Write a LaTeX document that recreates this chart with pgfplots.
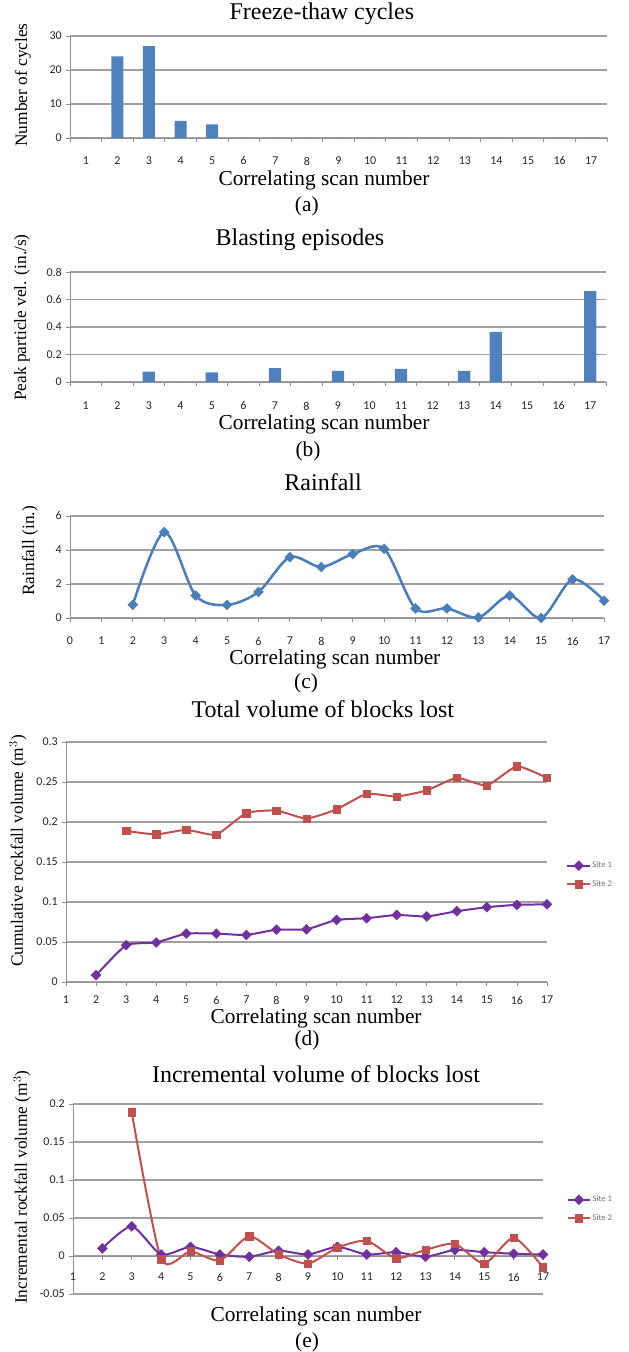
\documentclass[border=0pt]{standalone}
\usepackage{fontspec}
\setmainfont{Liberation Serif}
\newfontfamily\tickfont{Carlito}
\usepackage{pgfplots}
\pgfplotsset{compat=1.18}
\definecolor{barblue}{HTML}{4F81BD}
\definecolor{rainblue}{HTML}{4A7EBB}
\definecolor{sitepurple}{HTML}{7030A0}
\definecolor{sitered}{HTML}{C0504D}
\definecolor{gridgray}{HTML}{A0A0A0}
\definecolor{axisgray}{HTML}{909090}

\pgfplotsset{
  xlsbase/.style={
    scale only axis,
    anchor=south west,
    axis x line*=bottom, axis y line*=left,
    axis line style={draw=axisgray, line width=0.7pt, -},
    ymajorgrids, grid style={draw=gridgray, line width=0.8pt},
    tick align=outside,
    major tick length=3pt, minor tick length=3pt,
    tick style={draw=axisgray, line width=0.6pt},
    tick label style={font=\tickfont\fontsize{9}{9}\selectfont, text=black!85, inner sep=1pt},
    yticklabel style={anchor=east, xshift=-2pt},
    title style={anchor=center, font=\fontsize{18}{18}\selectfont, inner sep=1pt},
    xlabel style={anchor=center, font=\fontsize{16}{16}\selectfont, inner sep=1pt},
    ylabel style={anchor=center, font=\fontsize{13}{13}\selectfont, inner sep=1pt},
    clip=false,
  },
  barcats/.style={
    xmin=0.5, xmax=17.5,
    xtick={1,2,3,4,5,6,7,8,9,10,11,12,13,14,15,16,17},
    xticklabels={1,2,3,4,5,6,7,8,9,10,11,12,13,14,15,16,17},
    major x tick style={draw=none},
    minor xtick={0.5,1.5,2.5,3.5,4.5,5.5,6.5,7.5,8.5,9.5,10.5,11.5,12.5,13.5,14.5,15.5,16.5,17.5},
  },
  sitelegend/.style={
    legend style={draw=none, fill=none, anchor=center,
      font=\tickfont\fontsize{6.5}{6.5}\selectfont, text=black!55,
      row sep=6pt, inner sep=0pt, nodes={inner sep=1pt}},
    legend cell align=left,
  },
}

\pgfplotstableread{
x y
1 0
2 24
3 27
4 5
5 4
6 0
7 0
8 0
9 0
10 0
11 0
12 0
13 0
14 0
15 0
16 0
17 0
}\freezethaw

\pgfplotstableread{
x y
1 0
2 0
3 0.075
4 0
5 0.07
6 0
7 0.1
8 0
9 0.08
10 0
11 0.095
12 0
13 0.08
14 0.365
15 0
16 0
17 0.66
}\blasting

\pgfplotstableread{
x y
2 0.78
3 5.05
4 1.32
5 0.77
6 1.53
7 3.58
8 3.0
9 3.76
10 4.07
11 0.56
12 0.56
13 0.03
14 1.32
15 0.0
16 2.27
17 1.02
}\rainfall

\pgfplotstableread{
x y
2 0.0085
3 0.046
4 0.0494
5 0.0605
6 0.0605
7 0.0588
8 0.0654
9 0.0658
10 0.0776
11 0.0797
12 0.0838
13 0.0819
14 0.0885
15 0.0935
16 0.0965
17 0.097
}\cumsiteA

\pgfplotstableread{
x y
3 0.1888
4 0.1845
5 0.1902
6 0.1842
7 0.2112
8 0.2143
9 0.2043
10 0.2158
11 0.2352
12 0.2318
13 0.2395
14 0.2552
15 0.2456
16 0.2697
17 0.2550
}\cumsiteB

\pgfplotstableread{
x y
2 0.010
3 0.039
4 0.002
5 0.012
6 0.002
7 -0.001
8 0.007
9 0.002
10 0.012
11 0.002
12 0.005
13 -0.001
14 0.008
15 0.005
16 0.003
17 0.002
}\incsiteA

\pgfplotstableread{
x y
3 0.189
4 -0.004
5 0.006
6 -0.006
7 0.026
8 0.002
9 -0.010
10 0.011
11 0.020
12 -0.003
13 0.008
14 0.016
15 -0.010
16 0.024
17 -0.015
}\incsiteB

\begin{document}
\begin{tikzpicture}
\path[use as bounding box] (0pt,0pt) rectangle (471pt,1014pt);

% (a) Freeze-thaw cycles
\begin{axis}[xlsbase, barcats,
  at={(52.5pt,910.5pt)}, width=402.75pt, height=76.5pt,
  ymin=0, ymax=30,
  ytick={0,10,20,30}, yticklabels={0,10,20,30},
  xticklabel style={anchor=center, yshift=-14.25pt},
  title={Freeze-thaw cycles},
  title style={at={(axis description cs:0.469,1.137)}},
  xlabel={Correlating scan number},
  xlabel style={at={(axis description cs:0.473,-0.412)}},
  ylabel={Number of cycles},
  ylabel style={at={(axis description cs:-0.0875,0.52)}},
]
\addplot[ybar, fill=barblue, draw=none, bar width=0.38] table[x=x,y=y] {\freezethaw};
\node[font=\fontsize{16}{16}\selectfont] at (axis description cs:0.441,-0.667) {(a)};
\end{axis}

% (b) Blasting episodes
\begin{axis}[xlsbase, barcats,
  at={(52.5pt,727.5pt)}, width=402pt, height=82.5pt,
  ymin=0, ymax=0.8,
  ytick={0,0.2,0.4,0.6,0.8}, yticklabels={0,0.2,0.4,0.6,0.8},
  xticklabel style={anchor=center, yshift=-15pt},
  title={Blasting episodes},
  title style={at={(axis description cs:0.429,1.218)}},
  xlabel={Correlating scan number},
  xlabel style={at={(axis description cs:0.474,-0.382)}},
  ylabel={Peak particle vel. (in./s)},
  ylabel style={at={(axis description cs:-0.0896,0.586)}},
]
\addplot[ybar, fill=barblue, draw=none, bar width=0.39] table[x=x,y=y] {\blasting};
\node[font=\fontsize{16}{16}\selectfont] at (axis description cs:0.444,-0.627) {(b)};
\end{axis}

% (c) Rainfall
\begin{axis}[xlsbase,
  at={(52.5pt,550.5pt)}, width=400.5pt, height=76.5pt,
  xmin=0, xmax=17, ymin=0, ymax=6,
  xtick={0,1,2,3,4,5,6,7,8,9,10,11,12,13,14,15,16,17},
  xticklabels={0,1,2,3,4,5,6,7,8,9,10,11,12,13,14,15,16,17},
  ytick={0,2,4,6}, yticklabels={0,2,4,6},
  xticklabel style={anchor=center, yshift=-14.25pt},
  title={Rainfall},
  title style={at={(axis description cs:0.474,1.255)}},
  xlabel={Correlating scan number},
  xlabel style={at={(axis description cs:0.496,-0.402)}},
  ylabel={Rainfall (in.)},
  ylabel style={at={(axis description cs:-0.075,0.657)}},
]
\addplot[color=rainblue, line width=1.9pt, smooth, tension=0.5,
  mark=square*, mark size=2.6pt, mark options={rotate=45, solid, fill=rainblue, line width=0.4pt}]
  table[x=x,y=y] {\rainfall};
\node[font=\fontsize{16}{16}\selectfont] at (axis description cs:0.442,-0.637) {(c)};
\end{axis}

% (d) Total volume of blocks lost
\begin{axis}[xlsbase, sitelegend,
  at={(49.5pt,277.5pt)}, width=360.75pt, height=180pt,
  xmin=1, xmax=17, ymin=0, ymax=0.3,
  xtick={1,2,3,4,5,6,7,8,9,10,11,12,13,14,15,16,17},
  xticklabels={1,2,3,4,5,6,7,8,9,10,11,12,13,14,15,16,17},
  ytick={0,0.05,0.1,0.15,0.2,0.25,0.3},
  yticklabels={0,0.05,0.1,0.15,0.2,0.25,0.3},
  xticklabel style={anchor=center, yshift=-10.5pt},
  title={Total volume of blocks lost},
  title style={at={(axis description cs:0.534,1.104)}},
  xlabel={Correlating scan number},
  xlabel style={at={(axis description cs:0.52,-0.152)}},
  ylabel={Cumulative rockfall volume (m$^{3}$)},
  ylabel style={at={(axis description cs:-0.0998,0.546)}},
  legend style={at={(axis description cs:1.089,0.446)}},
]
\addplot[color=sitepurple, line width=1.5pt, smooth, tension=0.3,
  mark=square*, mark size=2.6pt, mark options={rotate=45, solid, fill=sitepurple, line width=0.4pt}]
  table[x=x,y=y] {\cumsiteA};
\addlegendentry{Site 1}
\addplot[color=sitered, line width=1.5pt, smooth, tension=0.3,
  mark=square*, mark size=2.8pt, mark options={solid, fill=sitered, line width=0.4pt}]
  table[x=x,y=y] {\cumsiteB};
\addlegendentry{Site 2}
\node[font=\fontsize{16}{16}\selectfont] at (axis description cs:0.501,-0.2425) {(d)};
\end{axis}

% (e) Incremental volume of blocks lost
\begin{axis}[xlsbase, sitelegend,
  at={(54.75pt,43.5pt)}, width=352.5pt, height=142.5pt,
  axis x line*=middle, hide obscured x ticks=false,
  xmin=1, xmax=17, ymin=-0.05, ymax=0.2,
  xtick={1,2,3,4,5,6,7,8,9,10,11,12,13,14,15,16,17},
  xticklabels={1,2,3,4,5,6,7,8,9,10,11,12,13,14,15,16,17},
  ytick={-0.05,0,0.05,0.1,0.15,0.2},
  yticklabels={-0.05,0,0.05,0.1,0.15,0.2},
  xticklabel style={anchor=center, yshift=-12.75pt},
  title={Incremental volume of blocks lost},
  title style={at={(axis description cs:0.517,1.116)}},
  xlabel={Correlating scan number},
  xlabel style={at={(axis description cs:0.517,-0.116)}},
  ylabel={Incremental rockfall volume (m$^{3}$)},
  ylabel style={at={(axis description cs:-0.1085,0.563)}},
  legend style={at={(axis description cs:1.1,0.447)}},
]
\addplot[color=sitepurple, line width=1.5pt, smooth, tension=0.4,
  mark=square*, mark size=2.6pt, mark options={rotate=45, solid, fill=sitepurple, line width=0.4pt}]
  table[x=x,y=y] {\incsiteA};
\addlegendentry{Site 1}
\addplot[color=sitered, line width=1.5pt, smooth, tension=0.4,
  mark=square*, mark size=2.8pt, mark options={solid, fill=sitered, line width=0.4pt}]
  table[x=x,y=y] {\incsiteB};
\addlegendentry{Site 2}
\node[font=\fontsize{16}{16}\selectfont] at (axis description cs:0.498,-0.253) {(e)};
\end{axis}
\end{tikzpicture}
\end{document}
